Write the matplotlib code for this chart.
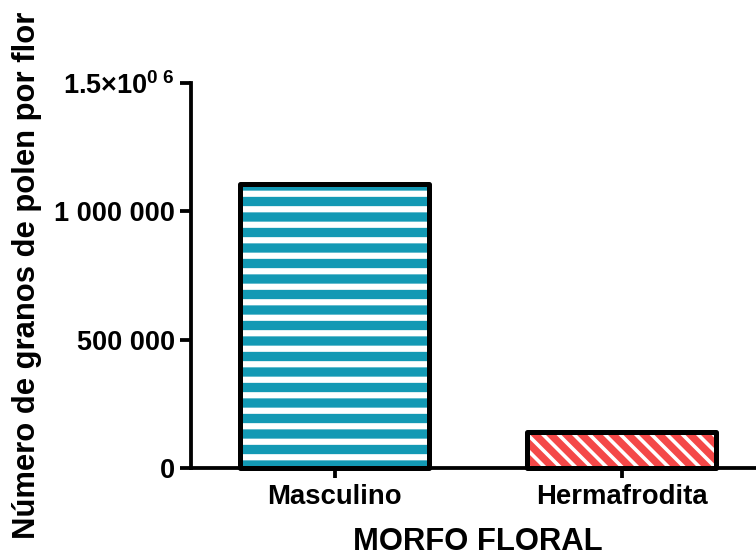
import matplotlib
matplotlib.use("Agg")
import matplotlib.pyplot as plt

# values
categorias = ["Masculino", "Hermafrodita"]
granos = [1106000, 139000]
colores = ["#1399b4", "#f44848"]
tramas = ["-", "\\\\"]

yticks = [0, 500000, 1000000, 1500000]
ytick_labels = ["0", "500 000", "1 000 000", r"1.5×10$^{0\ 6}$"]

dpi = 93


def pt(px):
    # pixel size -> points at this dpi
    return px * 72 / dpi


grosor_trama = [pt(6.2), pt(3.6)]

plt.rcParams["font.family"] = ["Liberation Sans", "DejaVu Sans"]
plt.rcParams["font.weight"] = "bold"
plt.rcParams["mathtext.fontset"] = "custom"
plt.rcParams["mathtext.rm"] = "Liberation Sans:bold"
plt.rcParams["mathtext.it"] = "Liberation Sans:bold"
plt.rcParams["mathtext.bf"] = "Liberation Sans:bold"

fig = plt.figure(figsize=(756 / dpi, 560 / dpi), dpi=dpi)
ax = fig.add_axes([191 / 756, 1 - 467.5 / 560, 574 / 756, 384 / 560])

x = list(range(len(categorias)))
for i in x:
    with plt.rc_context({"hatch.linewidth": grosor_trama[i]}):
        b = ax.bar(x[i], granos[i], width=0.66, color=colores[i],
                   edgecolor="white", linewidth=0, hatch=tramas[i], zorder=2)
        for p in b.patches:
            if hasattr(p, "set_hatch_linewidth"):
                p.set_hatch_linewidth(grosor_trama[i])
ax.bar(x, granos, width=0.66, facecolor="none", edgecolor="black",
       linewidth=pt(5), joinstyle="round", zorder=3, clip_on=False)

ax.set_xlim(-0.5, 1.5)
ax.set_ylim(0, 1500000)
ax.set_xticks(x)
ax.set_xticklabels(categorias, fontsize=pt(27.5), fontweight="bold")
ax.set_yticks(yticks)
ax.set_yticklabels(ytick_labels, fontsize=pt(27), fontweight="bold")

for s in ["top", "right"]:
    ax.spines[s].set_visible(False)
for s in ["left", "bottom"]:
    ax.spines[s].set_linewidth(pt(3.8))
ax.tick_params(axis="y", length=pt(11), width=pt(3.8), pad=pt(5))
ax.tick_params(axis="x", length=pt(10), width=pt(3.8), pad=pt(7))

ax.set_xlabel("MORFO FLORAL", fontsize=pt(31), fontweight="bold")
ax.set_ylabel("Número de granos de polen por flor", fontsize=pt(31), fontweight="bold")
ax.xaxis.set_label_coords(0.5, (467.5 - 542) / 384)
ax.xaxis.label.set_va("center")
ax.yaxis.set_label_coords((27 - 191) / 574, 0.5)
ax.yaxis.label.set_va("center")

fig.savefig("out.png", dpi=dpi)
